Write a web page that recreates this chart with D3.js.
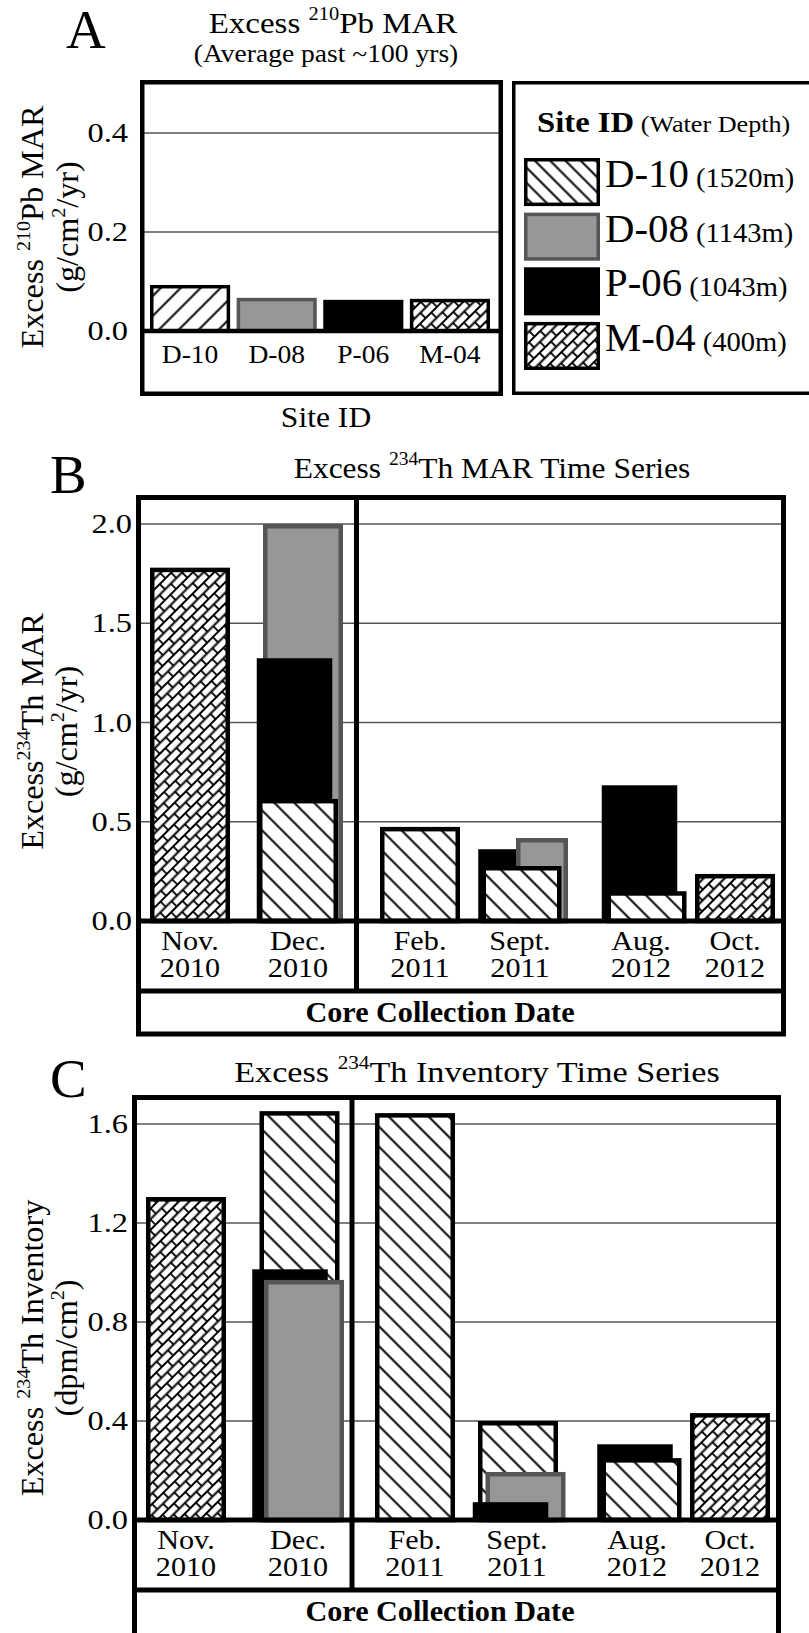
<!DOCTYPE html>
<html>
<head>
<meta charset="utf-8">
<script src="https://cdn.jsdelivr.net/npm/d3@7"></script>
<style>
  body { margin: 0; background: #fff; }
  svg text { font-family: "Liberation Serif", "Times New Roman", serif; fill: #000; }
</style>
</head>
<body>
<div id="chart"></div>
<script>

// ---- data ----------------------------------------------------------------

var siteIds    = ["D-10", "D-08", "P-06", "M-04"];
var siteDepths = ["(1520m)", "(1143m)", "(1043m)", "(400m)"];

// panel A: excess 210Pb MAR, average past ~100 yrs (g/cm2/yr)
var pbMar   = [0.093, 0.067, 0.063, 0.065];
var pbTicks = [0.0, 0.2, 0.4];

// panels B and C share the collection dates
var dateLabels = [["Nov.", "2010"], ["Dec.", "2010"], ["Feb.", "2011"],
                  ["Sept.", "2011"], ["Aug.", "2012"], ["Oct.", "2012"]];

// panel B: excess 234Th MAR (g/cm2/yr), null = no core
var marD10   = [null, 0.615, 0.474, 0.277, 0.150, null];
var marD08   = [null, 2.000, null,  0.418, null,  null];
var marP06   = [null, 1.335, null,  0.373, 0.695, null];
var marM04   = [1.780, null, null,  null,  null,  0.237];
var marTicks = [0.0, 0.5, 1.0, 1.5, 2.0];

// panel C: excess 234Th inventory (dpm/cm2)
var invD10   = [null, 1.652, 1.644, 0.400, 0.250, null];
var invD08   = [null, 0.970, null,  0.194, null,  null];
var invP06   = [null, 1.022, null,  0.081, 0.315, null];
var invM04   = [1.305, null, null,  null,  null,  0.432];
var invTicks = [0.0, 0.4, 0.8, 1.2, 1.6];

// ---- layout (back-to-front order and small x nudges of overlapping bars) --

var marOrder = [["M-04"], ["D-08", "P-06", "D-10"], ["D-10"], ["P-06", "D-08", "D-10"], ["P-06", "D-10"], ["M-04"]];
var marNudge = {"D-10": [0, 0, 0, 1.5, 5.5, 0], "D-08": [0, 5, 0, 22, 0, 0],
                "P-06": [0, -3.5, 0, -4, -1.5, 0], "M-04": [0, 0, 0, 0, 0, 0]};
var marWide  = {"D-08": [80, 80, 80, 52, 80, 80]};

var invOrder = [["M-04"], ["D-10", "P-06", "D-08"], ["D-10"], ["D-10", "D-08", "P-06"], ["P-06", "D-10"], ["M-04"]];
var invNudge = {"D-10": [0, 1.5, 0, 1, 4.5, 0], "D-08": [0, 6, 0, 8.5, 0, 0],
                "P-06": [0, -8, 0, -6.5, -2, 0], "M-04": [0, 0, 0, 0, 0, 0]};

var W = 809, H = 1633;
var SX = 1.1;   // the original lettering is a bit wider than Times

var svg = d3.select("#chart").append("svg")
            .attr("width", W).attr("height", H)
            .attr("font-family", "'Liberation Serif', 'Times New Roman', serif")
            .style("background", "#fff");

var defs = svg.append("defs");

function hatchPattern(id, gap, angle) {
  var p = defs.append("pattern").attr("id", id)
              .attr("patternUnits", "userSpaceOnUse")
              .attr("width", gap).attr("height", gap)
              .attr("patternTransform", "rotate(" + angle + ")");
  p.append("rect").attr("width", gap).attr("height", gap).attr("fill", "#fff");
  p.append("line").attr("x1", 0).attr("x2", gap).attr("y1", gap / 2).attr("y2", gap / 2)
   .attr("stroke", "#000").attr("stroke-width", 2);
}
hatchPattern("hatchBack", 14.1, 45);
hatchPattern("hatchFwd", 14.1, -45);
hatchPattern("hatchLegend", 10.8, 45);

// diagonal brick pattern for M-04
var bk = defs.append("pattern").attr("id", "bricks")
             .attr("patternUnits", "userSpaceOnUse")
             .attr("width", 16).attr("height", 15)
             .attr("patternTransform", "rotate(-45)");
bk.append("rect").attr("width", 16).attr("height", 15).attr("fill", "#fff");
bk.append("path").attr("d", "M0,1H16M0,8.5H16M4,1V8.5M12,8.5V15M12,0V1")
  .attr("stroke", "#000").attr("stroke-width", 1.8).attr("fill", "none");

function siteStyle(site, fwdHatch) {
  if (site == "D-10") return {fill: fwdHatch ? "url(#hatchFwd)" : "url(#hatchBack)", stroke: "#000"};
  if (site == "D-08") return {fill: "#979797", stroke: "#555"};
  if (site == "P-06") return {fill: "#000", stroke: "#000"};
  return {fill: "url(#bricks)", stroke: "#000"};
}

// plain text, slightly stretched sideways
function label(g, x, y, str, size, opts) {
  opts = opts || {};
  var t = g.append("text")
           .attr("transform", "translate(" + x + "," + y + ") scale(" + (opts.sx || SX) + ",1)")
           .attr("font-size", size)
           .attr("text-anchor", opts.anchor || "middle")
           .text(str);
  if (opts.bold) t.attr("font-weight", "bold");
  return t;
}

// text with "^" parts drawn as superscripts
function richText(g, x, y, parts, size, opts) {
  opts = opts || {};
  var sx = opts.sx || SX;
  var tf = "translate(" + x + "," + y + ")" + (opts.rotate ? " rotate(-90)" : "") + " scale(" + sx + ",1)";
  var t = g.append("text").attr("transform", tf)
           .attr("font-size", size)
           .attr("text-anchor", opts.anchor || "middle");
  var raised = false;
  parts.forEach(function (p) {
    var sup = p.charAt(0) == "^";
    var s = t.append("tspan").text(sup ? p.slice(1) : p);
    if (sup) { s.attr("font-size", size * 0.62).attr("dy", -size * 0.42); raised = true; }
    else if (raised) { s.attr("dy", size * 0.42); raised = false; }
  });
  return t;
}

function hline(g, x1, x2, y, color, w) {
  g.append("line").attr("x1", x1).attr("x2", x2).attr("y1", y).attr("y2", y)
   .attr("stroke", color).attr("stroke-width", w);
}

// ---- panel A --------------------------------------------------------------

var gA = svg.append("g");

label(gA, 66, 48, "A", 55, {anchor: "start", sx: 1});
richText(gA, 333, 33, ["Excess ", "^210", "Pb MAR"], 30);
label(gA, 326, 62, "(Average past ~100 yrs)", 26, {sx: 1.06});

var yA = d3.scaleLinear().domain([0, 0.4]).range([331, 133]);
var xA = d3.scaleBand().domain(siteIds).range([150, 490]).paddingInner(0.075);

pbTicks.filter(function (v) { return v > 0; }).forEach(function (v) {
  hline(gA, 144, 501, yA(v), "#555", 1.5);
});

pbTicks.forEach(function (v) {
  label(gA, 128, yA(v) + 9, v.toFixed(1), 27, {anchor: "end", sx: 1.2});
});

var swA = 3.5;
gA.selectAll(".bar-a")
  .data(siteIds.map(function (s, i) { return {site: s, v: pbMar[i]}; }))
  .enter().append("rect")
  .attr("class", "bar-a")
  .attr("x", function (d) { return xA(d.site) + swA / 2; })
  .attr("width", xA.bandwidth() - swA)
  .attr("y", function (d) { return yA(d.v) + swA / 2; })
  .attr("height", function (d) { return yA(0) - yA(d.v) - swA / 2; })
  .attr("fill", function (d) { return siteStyle(d.site, true).fill; })
  .attr("stroke", function (d) { return siteStyle(d.site, true).stroke; })
  .attr("stroke-width", swA);

hline(gA, 140, 503, yA(0), "#000", 4.5);

siteIds.forEach(function (s) {
  label(gA, xA(s) + xA.bandwidth() / 2, 363, s, 26, {sx: 1.06});
});

gA.append("rect").attr("x", 142.25).attr("y", 82.25).attr("width", 358.5).attr("height", 311.5)
  .attr("fill", "none").attr("stroke", "#000").attr("stroke-width", 4.5);

label(gA, 326, 427, "Site ID", 29, {sx: 1.09});

richText(gA, 43, 227, ["Excess ", "^210", "Pb MAR"], 31, {rotate: true, sx: 1.04});
richText(gA, 78, 227, ["(g/cm", "^2", "/yr)"], 31, {rotate: true, sx: 1.04});

// ---- legend ---------------------------------------------------------------

var gL = svg.append("g");
gL.append("rect").attr("x", 513.75).attr("y", 82.75).attr("width", 320).attr("height", 310.5)
  .attr("fill", "#fff").attr("stroke", "#000").attr("stroke-width", 3.5);

var lt = gL.append("text").attr("transform", "translate(537,132) scale(1.09,1)");
lt.append("tspan").attr("font-size", 30).attr("font-weight", "bold").text("Site ID");
lt.append("tspan").attr("font-size", 24).text(" (Water Depth)");

var legY = d3.scaleBand().domain(siteIds).range([158, 370]).paddingInner(0.12);

siteIds.forEach(function (s, i) {
  var st = siteStyle(s, false);
  gL.append("rect").attr("x", 525.75).attr("y", legY(s) + 1.75)
    .attr("width", 72.5).attr("height", legY.bandwidth() - 3.5)
    .attr("fill", s == "D-10" ? "url(#hatchLegend)" : st.fill)
    .attr("stroke", st.stroke).attr("stroke-width", 3.5);
  var t = gL.append("text").attr("transform", "translate(605," + (legY(s) + 29) + ") scale(1.02,1)");
  t.append("tspan").attr("font-size", 40).text(s);
  t.append("tspan").attr("font-size", 28).text(" " + siteDepths[i]);
});

// ---- panels B and C -------------------------------------------------------

function TimeSeriesPanel(cfg) {

  var g = svg.append("g");
  var sw = 4.5;

  var y = d3.scaleLinear().domain(cfg.domain).range(cfg.range);
  var x = d3.scaleOrdinal().domain(d3.range(dateLabels.length)).range(cfg.centers);

  label(g, 50, cfg.letterY, cfg.letter, 55, {anchor: "start", sx: 1});
  richText(g, cfg.titleX, cfg.titleY, cfg.title, 30, {sx: cfg.titleSx});

  cfg.ticks.filter(function (v) { return v > 0; }).forEach(function (v) {
    hline(g, cfg.left, cfg.right, y(v), "#555", 1.5);
  });

  cfg.ticks.forEach(function (v) {
    label(g, cfg.left - 9, y(v) + 9, v.toFixed(1), 27, {anchor: "end", sx: 1.2});
  });

  var bars = [];
  cfg.order.forEach(function (sites, i) {
    sites.forEach(function (s) {
      var v = cfg.series[s][i];
      if (v == null) return;
      var w = (cfg.wide[s] || [])[i] || 80;
      bars.push({site: s, col: i, v: v, w: w, x0: x(i) + cfg.nudge[s][i] - w / 2});
    });
  });

  g.selectAll(".bar")
   .data(bars)
   .enter().append("rect")
   .attr("class", "bar")
   .attr("x", function (d) { return d.x0 + sw / 2; })
   .attr("width", function (d) { return d.w - sw; })
   .attr("y", function (d) { return y(d.v) + sw / 2; })
   .attr("height", function (d) { return y(0) - y(d.v) - sw / 2; })
   .attr("fill", function (d) { return siteStyle(d.site, false).fill; })
   .attr("stroke", function (d) { return siteStyle(d.site, false).stroke; })
   .attr("stroke-width", function (d) { return d.site == "P-06" ? 0 : sw; });

  var zero = y(0);
  hline(g, cfg.left - 5, cfg.right + 5, zero, "#000", 5);
  hline(g, cfg.left - 5, cfg.right + 5, zero + 70, "#000", 5);

  g.append("line").attr("x1", cfg.divider).attr("x2", cfg.divider)
   .attr("y1", cfg.top).attr("y2", zero + 70)
   .attr("stroke", "#000").attr("stroke-width", 5);

  dateLabels.forEach(function (lab, i) {
    label(g, x(i), zero + 29, lab[0], 27, {sx: 1.12});
    label(g, x(i), zero + 56, lab[1], 27, {sx: 1.12});
  });

  label(g, 440, zero + 101, "Core Collection Date", 29, {bold: true, sx: 1.04});

  g.append("rect").attr("x", cfg.left - 2.5).attr("y", cfg.top)
   .attr("width", cfg.right - cfg.left + 5).attr("height", cfg.bottom - cfg.top)
   .attr("fill", "none").attr("stroke", "#000").attr("stroke-width", 5);

  var mid = (cfg.range[0] + cfg.range[1]) / 2 + cfg.labelShift;
  richText(g, 43, mid, cfg.ylabel1, 31, {rotate: true, sx: 1.04});
  richText(g, 77, mid, cfg.ylabel2, 31, {rotate: true, sx: 1.04});
}

new TimeSeriesPanel({
  letter: "B", letterY: 493,
  title: ["Excess ", "^234", "Th MAR Time Series"], titleX: 492, titleY: 478, titleSx: 1.05,
  left: 141, right: 781, top: 497.5, bottom: 1034, divider: 356.5,
  domain: [0, 2], range: [921, 524], ticks: marTicks,
  centers: [190, 298, 420, 520, 641, 735],
  series: {"D-10": marD10, "D-08": marD08, "P-06": marP06, "M-04": marM04},
  order: marOrder, nudge: marNudge, wide: marWide,
  ylabel1: ["Excess", "^234", "Th MAR"], ylabel2: ["(g/cm", "^2", "/yr)"], labelShift: 9
});

new TimeSeriesPanel({
  letter: "C", letterY: 1097,
  title: ["Excess ", "^234", "Th Inventory Time Series"], titleX: 477, titleY: 1082, titleSx: 1.14,
  left: 137, right: 776, top: 1097.5, bottom: 1700, divider: 352,
  domain: [0, 1.6], range: [1520, 1124], ticks: invTicks,
  centers: [186, 298, 415, 517, 637, 730],
  series: {"D-10": invD10, "D-08": invD08, "P-06": invP06, "M-04": invM04},
  order: invOrder, nudge: invNudge, wide: {},
  ylabel1: ["Excess ", "^234", "Th Inventory"], ylabel2: ["(dpm/cm", "^2", ")"], labelShift: 26
});

</script>
</body>
</html>
